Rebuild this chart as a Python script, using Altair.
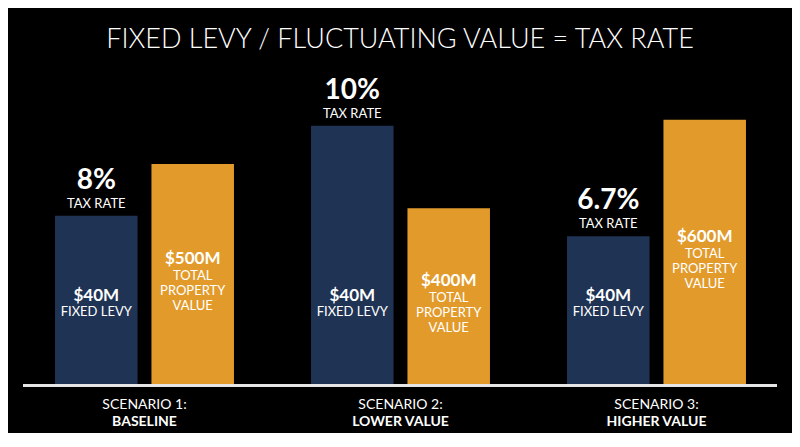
import altair as alt
import pandas as pd

# ---- data ----
scenarios = ["SCENARIO 1:", "SCENARIO 2:", "SCENARIO 3:"]
scenario_names = ["BASELINE", "LOWER VALUE", "HIGHER VALUE"]
tax_rate_labels = ["8%", "10%", "6.7%"]
levy_labels = ["$40M", "$40M", "$40M"]
property_values = [500, 400, 600]            # $M (orange bar heights)
levy_bar_heights = [383, 586, 337]           # navy bar heights, same units as orange
series = ["Fixed levy", "Property value"]

NAVY = "#1f3354"
ORANGE = "#e29b2b"
FONT = "Lato"

rows = []
for i, s in enumerate(scenarios):
    rows.append(dict(scenario=s, name=scenario_names[i], series=series[0],
                     height=levy_bar_heights[i], big=levy_labels[i],
                     rate=tax_rate_labels[i], l1="FIXED LEVY", l2="", l3=""))
    rows.append(dict(scenario=s, name=scenario_names[i], series=series[1],
                     height=property_values[i], big=f"${property_values[i]}M",
                     rate="", l1="TOTAL", l2="PROPERTY", l3="VALUE"))
df = pd.DataFrame(rows)

W, H = 784, 425
xscale = alt.Scale(range=[8.5, 776.5], paddingInner=0, paddingOuter=0)
x = alt.X("scenario:N", sort=scenarios, axis=None, scale=xscale)
xo = alt.XOffset("series:N", sort=series,
                 scale=alt.Scale(paddingInner=0.145, paddingOuter=0.4))
yscale = alt.Scale(domain=[-107.2, 852], nice=False, zero=False)
color = alt.Color("series:N", sort=series, legend=None,
                  scale=alt.Scale(domain=series, range=[NAVY, ORANGE]))

base = alt.Chart(df)

bars = base.mark_bar(width=82.5).encode(
    x=x, xOffset=xo,
    y=alt.Y("height:Q", scale=yscale, axis=None),
    y2=alt.datum(0),
    color=color,
)

levy = base.transform_filter(alt.datum.series == series[0])
prop = base.transform_filter(alt.datum.series == series[1])

def txt(src, field, y, dy, size, weight="normal"):
    return src.mark_text(font=FONT, fontSize=size, fontWeight=weight, color="white",
                         baseline="middle", dy=dy).encode(
        x=x, xOffset=xo, y=y, text=f"{field}:N")

rate_big = txt(levy, "rate", alt.Y("height:Q", scale=yscale), -35, 28, "bold")
rate_small = levy.mark_text(font=FONT, fontSize=13, color="white", baseline="middle",
                            dy=-12).encode(x=x, xOffset=xo,
                                            y=alt.Y("height:Q", scale=yscale),
                                            text=alt.value("TAX RATE"))

levy_big = txt(levy, "big", alt.datum(202), 0, 17, "bold")
levy_small = txt(levy, "l1", alt.datum(202), 16, 13)

prop_mid = prop.transform_calculate(mid="datum.height / 2")
ymid = alt.Y("mid:Q", scale=yscale)
prop_big = txt(prop_mid, "big", ymid, -16, 17, "bold")
prop_l1 = txt(prop_mid, "l1", ymid, 1, 13)
prop_l2 = txt(prop_mid, "l2", ymid, 16, 13)
prop_l3 = txt(prop_mid, "l3", ymid, 31, 13)

cat = base.transform_filter(alt.datum.series == series[0])
cat1 = cat.mark_text(font=FONT, fontSize=14, color="white", baseline="middle",
                     dy=19).encode(x=x, y=alt.datum(0), text="scenario:N")
cat2 = cat.mark_text(font=FONT, fontSize=14, fontWeight="bold", color="white",
                     baseline="middle", dy=36).encode(x=x, y=alt.datum(0), text="name:N")

rule = base.mark_rule(color="#e8e8e8", strokeWidth=2).encode(
    x=alt.value(15), x2=alt.value(769), y=alt.datum(0))

title = alt.Chart(pd.DataFrame({"t": ["FIXED LEVY / FLUCTUATING VALUE = TAX RATE"]})).mark_text(
    font=FONT, fontSize=27, fontWeight=300, color="white", baseline="middle"
).encode(x=alt.value(W / 2), y=alt.value(32), text="t:N")

chart = alt.layer(bars, rule, rate_big, rate_small, levy_big, levy_small,
                  prop_big, prop_l1, prop_l2, prop_l3, cat1, cat2, title).properties(
    width=W, height=H, padding=0, background="black"
).configure_view(stroke=None)

chart.save("out.html", embed_options={"renderer": "svg", "actions": False})
